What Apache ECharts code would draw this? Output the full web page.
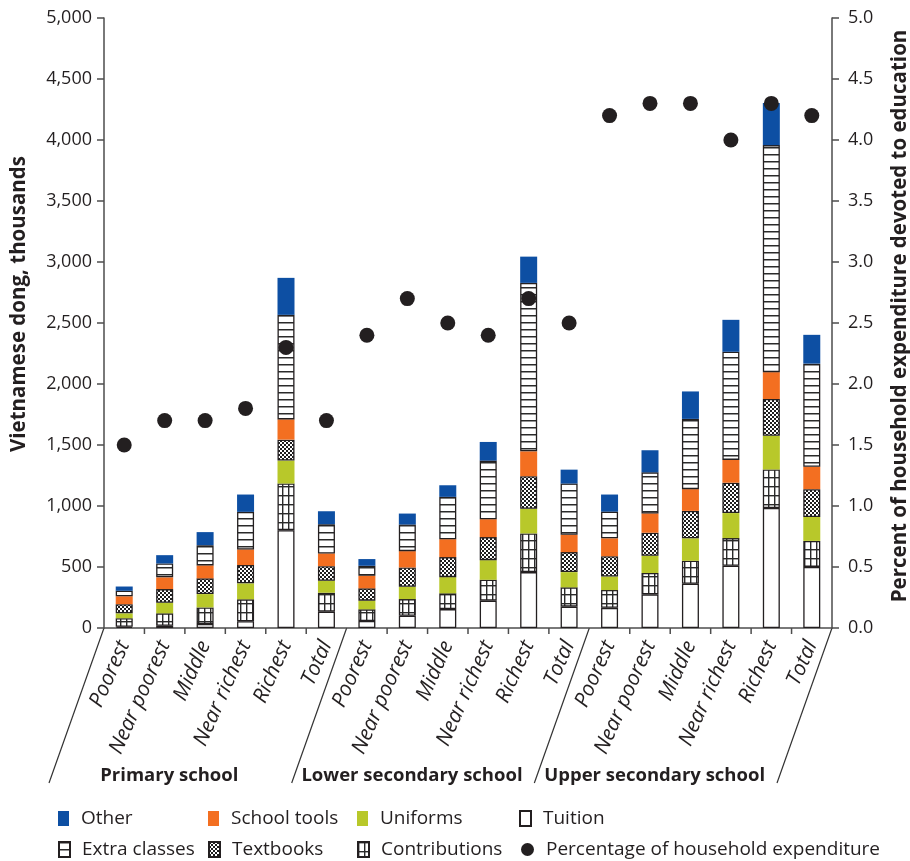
<!DOCTYPE html>
<html><head><meta charset="utf-8">
<script src="https://cdn.jsdelivr.net/npm/echarts@6/dist/echarts.min.js"></script>
<style>html,body{margin:0;padding:0;background:#fff}#c{width:910px;height:861px}</style>
</head><body><div id="c"></div>
<script>
// ---------- DATA ----------
const categories = ['Poorest','Near poorest','Middle','Near richest','Richest','Total',
                    'Poorest','Near poorest','Middle','Near richest','Richest','Total',
                    'Poorest','Near poorest','Middle','Near richest','Richest','Total'];
const groups = ['Primary school','Lower secondary school','Upper secondary school'];
const tuition       = [10, 19, 33, 55, 802, 134,   57, 101, 155, 224, 458, 175,   165, 276, 363, 510, 983, 501];
const contributions = [70, 101, 136, 180, 382, 155, 96, 136, 129, 171, 317, 158,  146, 175, 188, 227, 316, 213];
const uniforms      = [40, 87, 109, 131, 188, 98,   71, 101, 133, 161, 202, 125,  111, 141, 184, 205, 277, 196];
const textbooks     = [75, 112, 129, 150, 172, 120, 101, 158, 164, 189, 267, 164, 166, 189, 225, 249, 301, 228];
const schoolTools   = [65, 96, 106, 128, 166, 104, 103, 134, 147, 147, 204, 142, 147, 158, 178, 187, 220, 184];
const extraClasses  = [45, 114, 166, 308, 857, 240, 82, 218, 347, 480, 1381, 420, 219, 337, 576, 886, 1861, 845];
const other         = [35, 68, 107, 142, 303, 106,  55, 90, 95, 153, 215, 114,   140, 181, 225, 262, 345, 236];
const percentExpenditure = [1.5, 1.7, 1.7, 1.8, 2.3, 1.7,  2.4, 2.7, 2.5, 2.4, 2.7, 2.5,  4.2, 4.3, 4.3, 4.0, 4.3, 4.2];
const leftAxisMax = 5000, leftAxisStep = 500;
const rightAxisMax = 5, rightAxisStep = 0.5;

// ---------- STYLE ----------
const FONT = '"Open Sans", "Noto Sans", sans-serif';
const INK = '#231f20';
const AX = '#4d4d4d';

function pattern(kind) {
  const c = document.createElement('canvas');
  const ctx = c.getContext('2d');
  if (kind === 'hlines') {
    c.width = 8; c.height = 7;
    ctx.fillStyle = '#fff'; ctx.fillRect(0, 0, 8, 7);
    ctx.fillStyle = '#2a2a2a'; ctx.fillRect(0, 0, 8, 1.5);
  } else if (kind === 'grid') {
    c.width = 6; c.height = 9;
    ctx.fillStyle = '#fff'; ctx.fillRect(0, 0, 6, 9);
    ctx.fillStyle = '#2a2a2a'; ctx.fillRect(0, 0, 6, 1.4); ctx.fillRect(0, 0, 1.4, 9);
  } else if (kind === 'cross') {
    c.width = 4; c.height = 4;
    ctx.fillStyle = '#fff'; ctx.fillRect(0, 0, 4, 4);
    ctx.fillStyle = '#1e1e1e';
    ctx.fillRect(0, 0, 2, 2); ctx.fillRect(2, 2, 2, 2);
  }
  return { image: c, repeat: 'repeat' };
}

const border = { borderColor: '#231f20', borderWidth: 1.3 };
function barSeries(name, data, color, withBorder) {
  return {
    name, type: 'bar', stack: 'cost', data, barWidth: 17,
    itemStyle: Object.assign({ color }, withBorder ? border : { borderWidth: 0 }),
    emphasis: { disabled: true }
  };
}

const series = [
  barSeries('Tuition', tuition, '#ffffff', true),
  barSeries('Contributions', contributions, pattern('grid'), true),
  barSeries('Uniforms', uniforms, '#b8c82a', false),
  barSeries('Textbooks', textbooks, pattern('cross'), true),
  barSeries('School tools', schoolTools, '#f36f21', false),
  barSeries('Extra classes', extraClasses, pattern('hlines'), true),
  barSeries('Other', other, '#0d4fa3', false),
  {
    name: 'Percentage of household expenditure', type: 'scatter', yAxisIndex: 1,
    data: percentExpenditure, symbolSize: 15, itemStyle: { color: INK, opacity: 1 }, z: 5,
    emphasis: { disabled: true }
  }
];

const legendSlots = [
  ['Other', 58, 809], ['School tools', 208, 809], ['Uniforms', 357, 809], ['Tuition', 519, 809],
  ['Extra classes', 58, 840], ['Textbooks', 208, 840], ['Contributions', 357, 840],
  ['Percentage of household expenditure', 521, 840]
];
const legends = legendSlots.map(([n, l, t]) => {
  const isDot = n.startsWith('Percentage');
  return {
    data: [{ name: n, icon: isDot ? 'circle' : 'rect' }],
    left: l, top: t, padding: 0, itemGap: 0,
    itemWidth: isDot ? 13 : 11, itemHeight: isDot ? 13 : 15,
    selectedMode: false,
    textStyle: { fontFamily: FONT, fontSize: 19, color: INK, padding: [0, 0, 0, 7] }
  };
});

const chart = echarts.init(document.getElementById('c'), null, { renderer: 'canvas' });
chart.setOption({
  animation: false,
  backgroundColor: '#fff',
  textStyle: { fontFamily: FONT },
  grid: { left: 104, right: 78, top: 18, bottom: 233, containLabel: false, outerBoundsMode: 'none' },
  legend: legends,
  xAxis: {
    type: 'category', data: categories,
    axisLine: { lineStyle: { color: AX, width: 1.5 } },
    axisTick: { show: false },
    axisLabel: { interval: 0, rotate: 66, margin: 14, fontFamily: FONT, fontSize: 21, fontStyle: 'italic', color: INK }
  },
  yAxis: [
    {
      type: 'value', min: 0, max: leftAxisMax, interval: leftAxisStep,
      name: 'Vietnamese dong, thousands', nameLocation: 'middle', nameGap: 74, nameRotate: 90,
      nameTextStyle: { fontFamily: FONT, fontSize: 20.5, fontWeight: 'bold', color: INK, padding: [0, 0, 0, 38] },
      axisLine: { show: true, lineStyle: { color: AX, width: 1.5 } },
      axisTick: { show: true, length: 7, lineStyle: { color: AX, width: 1.5 } },
      splitLine: { show: false },
      axisLabel: { margin: 12, fontFamily: FONT, fontSize: 18, color: INK,
        formatter: v => v.toLocaleString('en-US') }
    },
    {
      type: 'value', min: 0, max: rightAxisMax, interval: rightAxisStep, position: 'right',
      name: 'Percent of household expenditure devoted to education', nameLocation: 'middle', nameGap: 58, nameRotate: 90,
      nameTextStyle: { fontFamily: FONT, fontSize: 20.5, fontWeight: 'bold', color: INK, padding: [0, 0, 0, 14] },
      axisLine: { show: true, lineStyle: { color: AX, width: 1.5 } },
      axisTick: { show: true, length: 7, lineStyle: { color: AX, width: 1.5 } },
      splitLine: { show: false },
      axisLabel: { margin: 16, fontFamily: FONT, fontSize: 18, color: INK,
        formatter: v => v.toFixed(1) }
    }
  ],
  series
});

// decorations: category ticks, slanted group separators and group labels
const c0 = chart.convertToPixel({ xAxisIndex: 0 }, 0);
const c1 = chart.convertToPixel({ xAxisIndex: 0 }, 1);
const step = c1 - c0;
const y0 = chart.convertToPixel({ yAxisIndex: 0 }, 0);
const boundary = k => c0 - step / 2 + k * step;
const graphic = [];
const perGroup = categories.length / groups.length;
for (let k = 1; k < categories.length; k++) {
  if (k % perGroup === 0) continue;
  graphic.push({ type: 'line', shape: { x1: boundary(k), y1: y0, x2: boundary(k), y2: y0 + 6 },
    style: { stroke: AX, lineWidth: 1.5 }, silent: true });
}
const slantDx = -55, slantDy = 155;
for (let g = 0; g <= groups.length; g++) {
  const bx = boundary(g * perGroup);
  graphic.push({ type: 'line', shape: { x1: bx, y1: y0, x2: bx + slantDx, y2: y0 + slantDy },
    style: { stroke: '#333', lineWidth: 1.2 }, silent: true });
}
groups.forEach((name, g) => {
  const mid = (boundary(g * perGroup) + boundary((g + 1) * perGroup)) / 2;
  graphic.push({ type: 'text', x: mid - 56, y: y0 + 148, silent: true,
    style: { text: name, fontFamily: FONT, fontSize: 18.5, fontWeight: 'bold', fill: INK,
      align: 'center', verticalAlign: 'middle' } });
});
chart.setOption({ graphic });
</script>
</body></html>
